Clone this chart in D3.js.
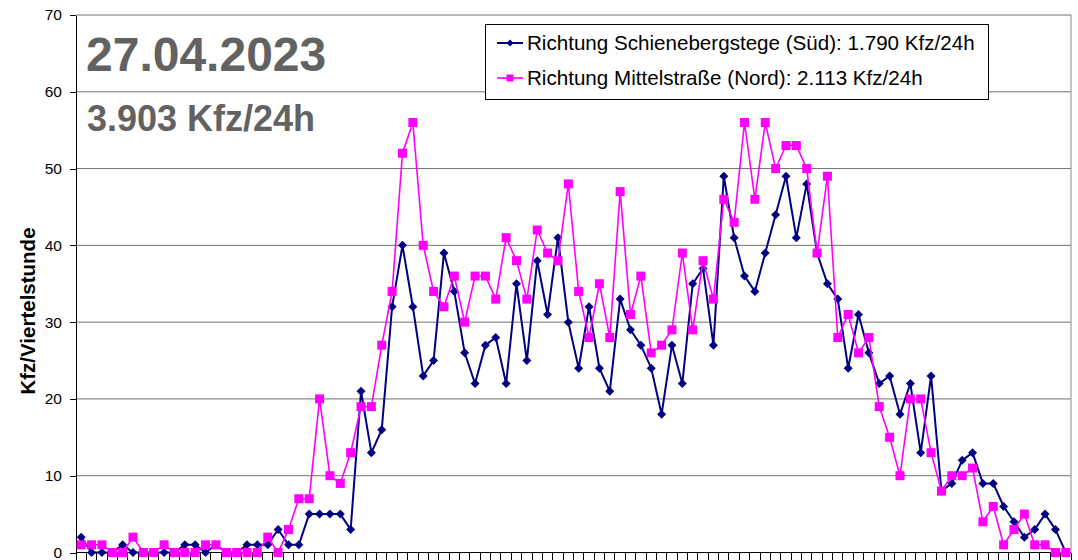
<!DOCTYPE html>
<html lang="de">
<head>
	<meta charset="utf-8">
	<title>Zählstelle 27.04.2023</title>
	<style>
		body { margin: 0; background: #fff; }
		svg { display: block; font-family: Arial, "Liberation Sans", sans-serif; }
		.grid line { stroke: #707070; stroke-width: 1px; }
		.axis path, .axis line { stroke: #000; shape-rendering: crispEdges; }
		.axis text { fill: #000; font-size: 15.5px; }
	</style>
</head>
<body>
	<div id="chart"></div>

	<script src="https://cdn.jsdelivr.net/npm/d3@7"></script>
	<script>
		// 96 Viertelstunden, 00:00 - 23:45
		var viertelstunden = d3.range(96).map(function(i) {
			return d3.format("02")(Math.floor(i / 4)) + ":" + d3.format("02")((i % 4) * 15);
		});

		// Richtung Schienebergstege (Süd)
		var sued = [2,0,0,0,1,0,0,0,0,0,1,1,0,1,0,0,1,1,1,3,1,1,5,5,5,5,3,21,
			13,16,32,40,32,23,25,39,34,26,22,27,28,22,35,25,38,31,41,30,
			24,32,24,21,33,29,27,24,18,27,22,35,37,27,49,41,36,34,39,44,49,41,48,
			39,35,33,24,31,26,22,23,18,22,13,23,8,9,12,13,9,9,6,4,2,3,5,3,0];

		// Richtung Mittelstraße (Nord)
		var nord = [1,1,1,0,0,2,0,0,1,0,0,0,1,1,0,0,0,0,2,0,3,7,7,20,10,9,13,19,
			19,27,34,52,56,40,34,32,36,30,36,36,33,41,38,33,42,39,38,48,
			34,28,35,28,47,31,36,26,27,29,39,29,38,33,46,43,56,46,56,50,53,53,50,
			39,49,28,31,26,28,19,15,10,20,20,13,8,10,10,11,4,6,1,3,5,1,1,0,0];

		var yTicks = [0, 10, 20, 30, 40, 50, 60, 70];

		var legendLabels = [
			"Richtung Schienebergstege (Süd): 1.790 Kfz/24h",
			"Richtung Mittelstraße (Nord): 2.113 Kfz/24h"
		];

		var datum = "27.04.2023",
		    summe = "3.903 Kfz/24h";

		var width = 1078,
		    height = 560,
		    plotL = 76, plotR = 1071, plotT = 15, plotB = 552.5;

		var svg = d3.select("#chart")
				.append("svg")
				.attr("width", width)
				.attr("height", height);

		var x = d3.scaleBand()
				.domain(viertelstunden)
				.range([plotL, plotR])
				.padding(0);

		var y = d3.scaleLinear()
				.domain([0, 70])
				.range([plotB, plotT]);

		var xc = function(i) { return x(viertelstunden[i]) + x.bandwidth() / 2; };

		// gridlines
		svg.append("g")
			.attr("class", "grid")
		  .selectAll("line")
			.data(yTicks.filter(function(d) { return d > 0; }))
		  .enter().append("line")
			.attr("x1", plotL).attr("x2", plotR)
			.attr("y1", function(d) { return y(d); })
			.attr("y2", function(d) { return y(d); });

		// right frame
		svg.append("line")
			.attr("x1", plotR).attr("x2", plotR)
			.attr("y1", plotT).attr("y2", plotB)
			.attr("stroke", "#8a8a8a");

		// y axis
		svg.append("g")
			.attr("class", "axis")
			.attr("transform", "translate(" + plotL + ",0)")
			.call(d3.axisLeft(y).tickValues(yTicks).tickSize(6).tickPadding(8).tickSizeOuter(0));

		// x axis: ticks between categories
		var xAxis = svg.append("g")
			.attr("class", "axis")
			.attr("transform", "translate(0," + plotB + ")");
		xAxis.append("line")
			.attr("x1", plotL).attr("x2", plotR);
		xAxis.selectAll(".tick")
			.data(d3.range(viertelstunden.length + 1))
		  .enter().append("line")
			.attr("class", "tick")
			.attr("x1", function(i) { return plotL + i * x.step(); })
			.attr("x2", function(i) { return plotL + i * x.step(); })
			.attr("y1", 0).attr("y2", 8);

		svg.append("text")
			.attr("transform", "translate(35,311) rotate(-90)")
			.attr("text-anchor", "middle")
			.style("font-size", "20.5px")
			.style("font-weight", "bold")
			.text("Kfz/Viertelstunde");

		// lines
		var line = d3.line()
			.x(function(d, i) { return xc(i); })
			.y(function(d) { return y(d); });

		svg.append("path")
			.datum(sued)
			.attr("fill", "none")
			.attr("stroke", "#000080")
			.attr("stroke-width", 2)
			.attr("d", line);

		svg.append("g")
		  .selectAll("path")
			.data(sued)
		  .enter().append("path")
			.attr("transform", function(d, i) { return "translate(" + xc(i) + "," + y(d) + ")"; })
			.attr("d", "M0,-4.5L4.5,0L0,4.5L-4.5,0Z")
			.attr("fill", "#000080");

		svg.append("path")
			.datum(nord)
			.attr("fill", "none")
			.attr("stroke", "#ff00ff")
			.attr("stroke-width", 1.6)
			.attr("d", line);

		svg.append("g")
		  .selectAll("rect")
			.data(nord)
		  .enter().append("rect")
			.attr("x", function(d, i) { return xc(i) - 4.5; })
			.attr("y", function(d) { return y(d) - 4.5; })
			.attr("width", 9)
			.attr("height", 9)
			.attr("fill", "#ff00ff");

		// title
		svg.append("text")
			.attr("x", 86).attr("y", 70.5)
			.style("font-size", "48px")
			.style("font-weight", "bold")
			.attr("fill", "#626262")
			.text(datum);

		svg.append("text")
			.attr("x", 87).attr("y", 131)
			.style("font-size", "36px")
			.style("font-weight", "bold")
			.attr("fill", "#626262")
			.text(summe);

		// legend
		var legend = svg.append("g");
		legend.append("rect")
			.attr("x", 485.5).attr("y", 24.5)
			.attr("width", 503).attr("height", 75)
			.attr("fill", "#fff")
			.attr("stroke", "#000");

		var items = legend.selectAll(".item")
			.data(legendLabels)
		  .enter().append("g")
			.attr("class", "item")
			.attr("transform", function(d, i) { return "translate(0," + (43 + i * 35) + ")"; });

		items.append("line")
			.attr("x1", 497).attr("x2", 523)
			.attr("stroke", function(d, i) { return i === 0 ? "#000080" : "#ff00ff"; })
			.attr("stroke-width", function(d, i) { return i === 0 ? 2 : 1.6; });

		items.filter(function(d, i) { return i === 0; })
			.append("path")
			.attr("d", "M510,-3.5L513.5,0L510,3.5L506.5,0Z")
			.attr("fill", "#000080");

		items.filter(function(d, i) { return i === 1; })
			.append("rect")
			.attr("x", 506.5).attr("y", -3.5)
			.attr("width", 7).attr("height", 7)
			.attr("fill", "#ff00ff");

		items.append("text")
			.attr("x", 527)
			.attr("y", 7)
			.style("font-size", "20.6px")
			.attr("fill", "#000")
			.text(function(d) { return d; });
	</script>
</body>
</html>
